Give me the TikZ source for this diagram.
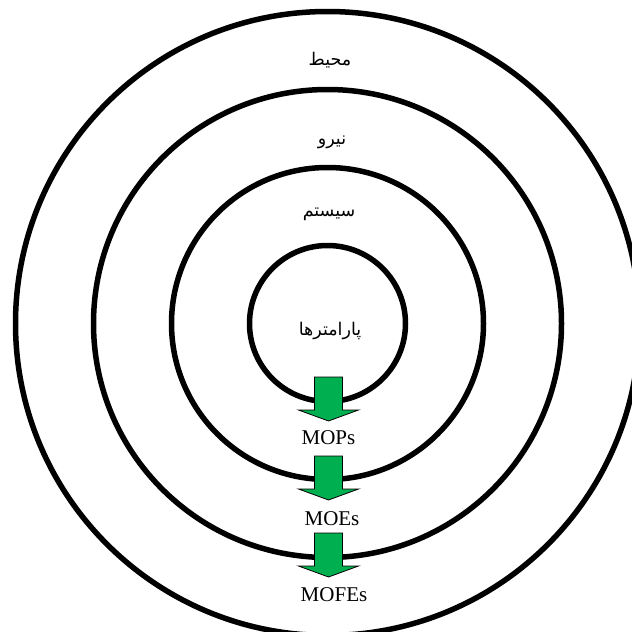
\documentclass[tikz,border=0pt]{standalone}
\usepackage{fontspec}
\setmainfont{Liberation Serif}
\newfontfamily\arabicfont[Script=Arabic]{DejaVu Sans}
\TeXXeTstate=1
\definecolor{arrowgreen}{RGB}{0,176,80}
\tikzset{
  ring/.style={draw=black, line width=5.5pt},
  arrowbox/.style={draw=black, line width=0.8pt, fill=arrowgreen, line join=miter},
  metric/.style={font=\fontsize{21}{24}\selectfont, inner sep=0pt},
  layername/.style={font=\arabicfont\fontsize{17.5}{20}\selectfont, inner sep=0pt},
  downarrow/.pic={
    \draw[arrowbox] (-14,0) -- (14,0) -- (14,33) -- (30,33) -- (0,44)
      -- (-30,33) -- (-14,33) -- cycle;
  }
}
\begin{document}
\begin{tikzpicture}[x=1pt, y=-1pt]
  \useasboundingbox (0,0) rectangle (632,632);
  \clip (0,0) rectangle (632,632);
  \fill[white] (0,0) rectangle (632,632);

  % common centre of the four rings
  \coordinate (ctr) at (327.5,323.5);
  \draw[ring] (ctr) circle[radius=312pt];
  \draw[ring] (ctr) circle[radius=234pt];
  \draw[ring] (ctr) circle[radius=156pt];
  \draw[ring] (ctr) circle[radius=78pt];

  % layer names
  \node[layername] (env)    at (330,60)  {\beginR محیط\endR};
  \node[layername] (force)  at (332,142) {\beginR نیرو\endR};
  \node[layername] (system) at (329,214) {\beginR سیستم\endR};
  \node[layername] (params) at (330,331) {\beginR پارامترها\endR};

  % block arrows crossing each ring
  \pic (a1) at (328.5,377) {downarrow};
  \pic (a2) at (328.5,456) {downarrow};
  \pic (a3) at (328.5,533) {downarrow};

  % measures
  \node[metric] (mops)  at (328.5,437.5) {MOPs};
  \node[metric] (moes)  at (332,519)     {MOEs};
  \node[metric] (mofes) at (334,595)     {MOFEs};
\end{tikzpicture}
\end{document}
